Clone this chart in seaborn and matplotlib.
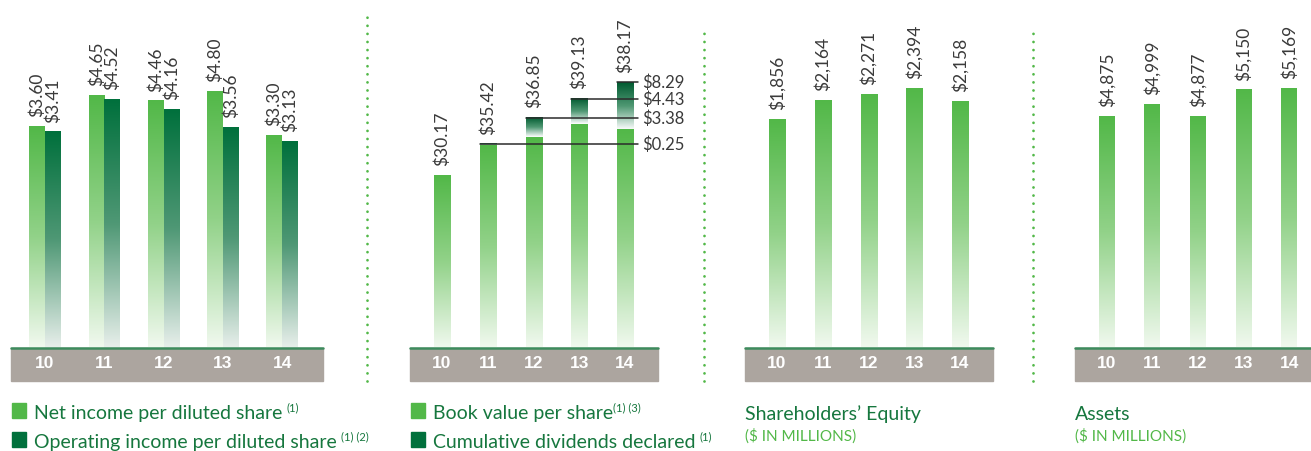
import numpy as np
import pandas as pd
import matplotlib
matplotlib.use('Agg')
import matplotlib.pyplot as plt
import seaborn as sns
from matplotlib.colors import LinearSegmentedColormap
from matplotlib.patches import Rectangle
from matplotlib.lines import Line2D

years = ['10', '11', '12', '13', '14']
net_income = [3.60, 4.65, 4.46, 4.80, 3.30]
operating_income = [3.41, 4.52, 4.16, 3.56, 3.13]
book_value = [30.17, 35.42, 36.85, 39.13, 38.17]
dividends = [0.0, 0.25, 3.38, 4.43, 8.29]
equity = [1856, 2164, 2271, 2394, 2158]
assets = [4875, 4999, 4877, 5150, 5169]

LIGHT = '#52b848'
DARK = '#00703c'
TEXT_GREEN = '#16773e'
BAND = '#aca59f'
LABEL = '#3a3a3a'

sns.set_theme(style='white')
plt.rcParams['font.family'] = ['Lato', 'DejaVu Sans']

W, H = 1311, 452
BASE = 349  # pixel row of the bar baseline
fig = plt.figure(figsize=(W / 100, H / 100), dpi=100)

light_cmap = LinearSegmentedColormap.from_list('light', ['#f1f9ef', '#92d289', LIGHT])
dark_cmap = LinearSegmentedColormap.from_list('dark', ['#e8efeb', '#4f9875', DARK])
seg_cmap = LinearSegmentedColormap.from_list('seg', ['#ffffff', '#4f9873', '#005a30'])
grad = np.linspace(0, 1, 256).reshape(-1, 1)


def make_ax(left, right):
    return fig.add_axes([left / W, (H - BASE) / H, (right - left) / W, BASE / H])


def fill_gradient(ax, bar, cmap, y_from=None):
    to_axes = ax.transData + ax.transAxes.inverted()
    y0 = bar.get_y() if y_from is None else y_from
    x0, ya = to_axes.transform((bar.get_x(), y0))
    x1, yb = to_axes.transform((bar.get_x() + bar.get_width(), bar.get_y() + bar.get_height()))
    bar.set_facecolor('none')
    bar.set_edgecolor('none')
    if yb - ya > 1e-4:
        ax.imshow(grad, cmap=cmap, extent=[x0, x1, ya, yb], origin='lower',
                  aspect='auto', transform=ax.transAxes, clip_path=bar, zorder=1)


def style_ax(ax, xlim, ylim):
    ax.set_xlim(*xlim)
    ax.set_ylim(*ylim)
    ax.set_xlabel('')
    ax.set_ylabel('')
    ax.set_yticks([])
    ax.set_facecolor('none')
    for s in ax.spines.values():
        s.set_visible(False)
    ax.set_xticks(range(len(years)))
    ax.set_xticklabels(years, fontweight='bold', fontfamily='Liberation Sans',
                       fontsize=12.5, color='white')
    ax.tick_params(axis='x', length=0, pad=5)
    ax.add_patch(Rectangle((0, -33 / BASE), 1, 33 / BASE, transform=ax.transAxes,
                           color=BAND, clip_on=False, zorder=0))
    ax.plot([0, 1], [0, 0], transform=ax.transAxes, color='#3d8b5d', lw=1.8,
            clip_on=False, zorder=3)


def value_label(ax, x, y, txt):
    ax.annotate(txt, (x, y), xytext=(0, 7.5), textcoords='offset points', rotation=90,
                ha='center', va='bottom', fontsize=12.5, color=LABEL)


# panel 1: per share income
ax1 = make_ax(11, 323)
df1 = pd.DataFrame({
    'year': years * 2,
    'series': ['net'] * 5 + ['operating'] * 5,
    'value': net_income + operating_income,
})
sns.barplot(data=df1, x='year', y='value', hue='series', palette=[LIGHT, DARK],
            width=0.53, errorbar=None, legend=False, ax=ax1)
bars1 = list(ax1.patches)
ax1.set_yscale('function', functions=(np.sqrt, np.square))
style_ax(ax1, (-0.574, 4.69), (0, 8.9))
for bar, v, cm in zip(bars1, net_income + operating_income, [light_cmap] * 5 + [dark_cmap] * 5):
    fill_gradient(ax1, bar, cm)
    value_label(ax1, bar.get_x() + bar.get_width() / 2, v, f'${v:.2f}')

# panel 2: book value with cumulative dividends stacked on top
ax2 = make_ax(410, 658)
total = [b + d for b, d in zip(book_value, dividends)]
df2 = pd.DataFrame({'year': years, 'total': total, 'book': book_value})
sns.barplot(data=df2, x='year', y='total', color=DARK, width=0.35, errorbar=None, ax=ax2)
sns.barplot(data=df2, x='year', y='book', color=LIGHT, width=0.35, errorbar=None, ax=ax2)
bars2 = list(ax2.patches)
style_ax(ax2, (-0.70, 4.72), (0, 61))
for bar, b in zip(bars2[:5], book_value):
    fill_gradient(ax2, bar, seg_cmap, y_from=b)
for bar in bars2[5:10]:
    fill_gradient(ax2, bar, light_cmap)
for i, bar in enumerate(bars2[:5]):
    value_label(ax2, bar.get_x() + bar.get_width() / 2, total[i], f'${book_value[i]:.2f}')
    if dividends[i] > 0:
        ax2.plot([bar.get_x(), 4.28], [total[i], total[i]], color='#2b2b2b', lw=1.1,
                 clip_on=False, zorder=5)
        ax2.text(4.37, total[i], f'${dividends[i]:.2f}', ha='left', va='center',
                 fontsize=12, color=LABEL)

# panel 3: shareholders' equity
ax3 = make_ax(745, 993)
df3 = pd.DataFrame({'year': years, 'value': equity})
sns.barplot(data=df3, x='year', y='value', color=LIGHT, width=0.35, errorbar=None, ax=ax3)
bars3 = list(ax3.patches)
ax3.set_yscale('function', functions=(np.sqrt, np.square))
style_ax(ax3, (-0.70, 4.72), (0, 4314))
for bar, v in zip(bars3, equity):
    fill_gradient(ax3, bar, light_cmap)
    value_label(ax3, bar.get_x() + bar.get_width() / 2, v, f'${v:,}')

# panel 4: assets
ax4 = make_ax(1075, 1311)
df4 = pd.DataFrame({'year': years, 'value': assets})
sns.barplot(data=df4, x='year', y='value', color=LIGHT, width=0.35, errorbar=None, ax=ax4)
bars4 = list(ax4.patches)
ax4.set_yscale('function', functions=(np.square, np.sqrt))
style_ax(ax4, (-0.70, 4.48), (0, 5989))
for bar, v in zip(bars4, assets):
    fill_gradient(ax4, bar, light_cmap)
    value_label(ax4, bar.get_x() + bar.get_width() / 2, v, f'${v:,}')

# dotted separators
for x, top in [(367, 18), (704, 27), (1033, 27)]:
    fig.add_artist(Line2D([x / W, x / W], [(H - 382) / H, (H - top) / H],
                          transform=fig.transFigure, color=LIGHT, lw=2,
                          linestyle=(0, (0.01, 2.9)), dash_capstyle='round'))

# legends / captions
renderer = fig.canvas.get_renderer()
legend_items = [
    (12, 419, LIGHT, 'Net income per diluted share', '(1)', 4),
    (12, 448, DARK, 'Operating income per diluted share', '(1) (2)', 4),
    (411, 419, LIGHT, 'Book value per share', '(1) (3)', 0),
    (411, 448, DARK, 'Cumulative dividends declared', '(1)', 4),
]
for x, y, col, txt, sup, gap in legend_items:
    fig.add_artist(Rectangle((x / W, (H - y) / H), 14 / W, 15 / H,
                             transform=fig.transFigure, color=col))
    t = fig.text((x + 22) / W, (H - y) / H, txt, ha='left', va='baseline',
                 fontsize=14, color=TEXT_GREEN)
    x_end = t.get_window_extent(renderer).x1
    fig.text((x_end + gap) / W, (H - y + 8) / H, sup, ha='left', va='baseline',
             fontsize=8, color=TEXT_GREEN)

for x, title in [(745, 'Shareholders\u2019 Equity'), (1075, 'Assets')]:
    fig.text(x / W, (H - 420) / H, title, ha='left', va='baseline',
             fontsize=14, color=TEXT_GREEN)
    fig.text(x / W, (H - 441) / H, '($ IN MILLIONS)', ha='left', va='baseline',
             fontsize=11, color=LIGHT)

fig.savefig('out.png', dpi=100)
